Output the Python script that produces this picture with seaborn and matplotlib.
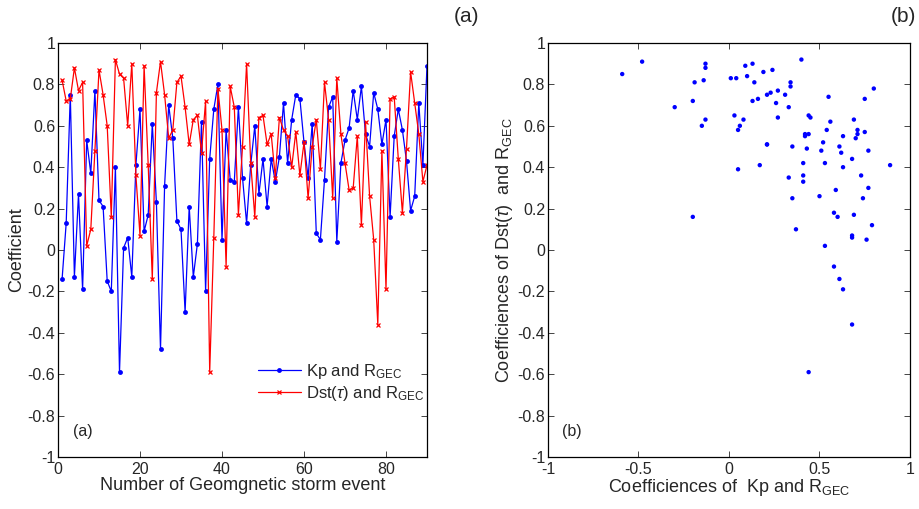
import numpy as np
import pandas as pd
import matplotlib
matplotlib.use("Agg")
import matplotlib.pyplot as plt
import seaborn as sns

# Correlation coefficients per storm event
events = list(range(1, 91))

kp_rgec = [-0.14, 0.13, 0.75, -0.13, 0.27, -0.19, 0.53, 0.37, 0.77, 0.24,
           0.21, -0.15, -0.20, 0.40, -0.59, 0.01, 0.06, -0.13, 0.41, 0.68,
           0.09, 0.17, 0.61, 0.23, -0.48, 0.31, 0.70, 0.54, 0.14, 0.10,
           -0.30, 0.21, -0.13, 0.03, 0.62, -0.20, 0.44, 0.68, 0.80, 0.05,
           0.58, 0.34, 0.33, 0.69, 0.35, 0.13, 0.41, 0.60, 0.27, 0.44,
           0.21, 0.44, 0.33, 0.45, 0.71, 0.42, 0.63, 0.75, 0.73, 0.52,
           0.35, 0.61, 0.08, 0.05, 0.34, 0.69, 0.74, 0.04, 0.42, 0.53,
           0.59, 0.77, 0.63, 0.79, 0.56, 0.50, 0.76, 0.68, 0.51, 0.63,
           0.16, 0.55, 0.68, 0.58, 0.43, 0.19, 0.26, 0.71, 0.41, 0.89]

dst_rgec = [0.82, 0.72, 0.73, 0.88, 0.77, 0.81, 0.02, 0.10, 0.48, 0.87,
            0.75, 0.60, 0.16, 0.92, 0.85, 0.83, 0.60, 0.90, 0.36, 0.07,
            0.89, 0.41, -0.14, 0.76, 0.91, 0.75, 0.54, 0.58, 0.81, 0.84,
            0.69, 0.51, 0.63, 0.65, 0.47, 0.72, -0.59, 0.06, 0.78, 0.58,
            -0.08, 0.79, 0.69, 0.17, 0.50, 0.90, 0.42, 0.16, 0.64, 0.65,
            0.51, 0.56, 0.35, 0.64, 0.58, 0.55, 0.40, 0.57, 0.36, 0.52,
            0.25, 0.50, 0.63, 0.39, 0.81, 0.63, 0.25, 0.83, 0.56, 0.42,
            0.29, 0.30, 0.55, 0.12, 0.62, 0.26, 0.05, -0.36, 0.48, -0.19,
            0.73, 0.74, 0.44, 0.18, 0.49, 0.86, 0.71, 0.56, 0.33, 0.41]

y_ticks = [-1, -0.8, -0.6, -0.4, -0.2, 0, 0.2, 0.4, 0.6, 0.8, 1]
x_ticks_a = [0, 20, 40, 60, 80]
x_ticks_b = [-1, -0.5, 0, 0.5, 1]

df = pd.DataFrame({"event": events, "kp": kp_rgec, "dst": dst_rgec})

sns.set_style("ticks")
plt.rcParams['font.family'] = ['Liberation Sans', 'DejaVu Sans']
plt.rcParams['mathtext.fontset'] = 'custom'
plt.rcParams['mathtext.rm'] = 'Liberation Sans'
plt.rcParams['mathtext.it'] = 'Liberation Sans:italic'

fig = plt.figure(figsize=(9.2, 5.09), dpi=100)
bottom = 1 - 457 / 509
height = (457 - 43) / 509
ax1 = fig.add_axes([58 / 920, bottom, (427 - 58) / 920, height])
ax2 = fig.add_axes([548 / 920, bottom, (910 - 548) / 920, height])

blue = "#0000ff"
red = "#ff0000"

# (a) time series
sns.lineplot(data=df, x="event", y="kp", ax=ax1, color=blue, lw=0.9,
             marker="o", markersize=3.5, markeredgewidth=0, mfc=blue, mec=blue,
             label=r"Kp and R$_{\mathrm{GEC}}$")
sns.lineplot(data=df, x="event", y="dst", ax=ax1, color=red, lw=0.9,
             marker="x", markersize=3.5, markeredgewidth=0.9, mec=red,
             label=r"Dst($\tau$) and R$_{\mathrm{GEC}}$")
ax1.set_xlim(0, 90)
ax1.set_ylim(-1, 1)
ax1.set_xticks(x_ticks_a)
ax1.set_yticks(y_ticks)
ax1.set_yticklabels([f"{t:g}" for t in y_ticks])
ax1.set_xlabel("Number of Geomgnetic storm event", fontsize=13, labelpad=0)
ax1.set_ylabel("Coefficient", fontsize=13, labelpad=2)
ax1.text(0.04, 0.05, "(a)", transform=ax1.transAxes, fontsize=11.5)
ax1.legend(loc="center left", bbox_to_anchor=(0.5, 0.18), frameon=False,
           fontsize=12, handlelength=2.6, handletextpad=0.3, labelspacing=0.15)

# (b) scatter of the two coefficient sets
sns.scatterplot(data=df, x="kp", y="dst", ax=ax2, color=blue, s=10,
                edgecolor="none")
ax2.set_xlim(-1, 1)
ax2.set_ylim(-1, 1)
ax2.set_xticks(x_ticks_b)
ax2.set_xticklabels([f"{t:g}" for t in x_ticks_b])
ax2.set_yticks(y_ticks)
ax2.set_yticklabels([f"{t:g}" for t in y_ticks])
ax2.set_xlabel(r"Coefficiences of  Kp and R$_{\mathrm{GEC}}$", fontsize=13, labelpad=0)
ax2.set_ylabel(r"Coefficiences of Dst($\tau$)  and R$_{\mathrm{GEC}}$", fontsize=13, labelpad=2)
ax2.text(0.04, 0.05, "(b)", transform=ax2.transAxes, fontsize=11.5)

for ax in (ax1, ax2):
    ax.tick_params(direction="in", top=True, right=True, length=4,
                   width=0.6, labelsize=11.5)
    ax.tick_params(axis="x", pad=3.5)
    ax.tick_params(axis="y", pad=2)
    for sp in ax.spines.values():
        sp.set_visible(True)
        sp.set_linewidth(0.9)
        sp.set_color("black")

fig.text(467 / 920, 1 - 17 / 509, "(a)", ha="center", va="center", fontsize=15)
fig.text(903 / 920, 1 - 17 / 509, "(b)", ha="center", va="center", fontsize=15)

fig.savefig("out.png", dpi=100)
